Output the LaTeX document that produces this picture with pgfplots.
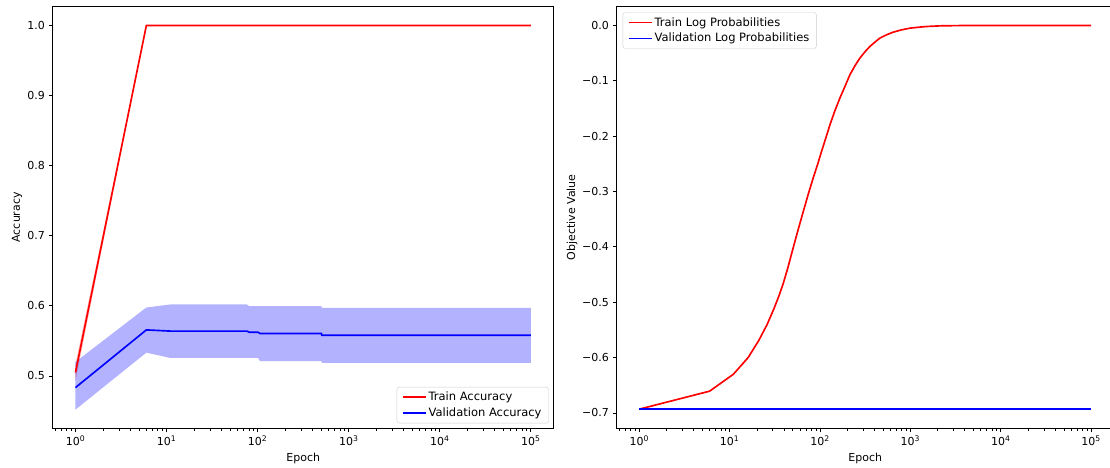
\documentclass[border=0pt]{standalone}
\usepackage{fontspec}
\setmainfont{DejaVu Sans}
\usepackage{pgfplots}
\pgfplotsset{compat=1.18}

\pgfplotsset{
  every axis/.append style={
    scale only axis,
    height=422pt,
    xmode=log,
    xmin=0.5623, xmax=177828,
    xtick={1,10,100,1000,10000,100000},
    xticklabels={10\textsuperscript{0},10\textsuperscript{1},10\textsuperscript{2},10\textsuperscript{3},10\textsuperscript{4},10\textsuperscript{5}},
    minor xtick={0.6,0.7,0.8,0.9,2,3,4,5,6,7,8,9,20,30,40,50,60,70,80,90,
      200,300,400,500,600,700,800,900,2000,3000,4000,5000,6000,7000,8000,9000,
      20000,30000,40000,50000,60000,70000,80000,90000},
    tick align=outside,
    tick pos=left,
    major tick length=3.85pt,
    minor tick length=2.2pt,
    every tick/.style={black, line width=0.88pt},
    every minor tick/.style={black, line width=0.66pt},
    axis line style={line width=0.88pt},
    tick label style={font=\fontsize{11}{13}\selectfont, inner sep=0pt},
    xticklabel style={anchor=north, yshift=-3.6pt},
    yticklabel style={anchor=east, xshift=-3.9pt},
    label style={font=\fontsize{11}{13}\selectfont},
    legend style={font=\fontsize{11.5}{13.5}\selectfont, draw=black!20, rounded corners=2.5pt,
      fill=white, fill opacity=0.8, text opacity=1, inner xsep=5pt, inner ysep=3pt,
      row sep=1.5pt},
    legend cell align=left,
    legend image code/.code={\draw[#1] (0pt,0pt) -- (23pt,0pt);},
  },
  every axis x label/.style={at={(axis description cs:0.5,0)}, anchor=center, yshift=-29.7pt},
  every axis y label/.style={at={(axis description cs:0,0.5)}, rotate=90, anchor=center},
}

\begin{document}
\begin{tikzpicture}
% ---- accuracy panel ----
\begin{axis}[
  at={(52.7pt,38.7pt)}, anchor=south west,
  width=501pt,
  ymin=0.4253, ymax=1.0274,
  ytick={0.5,0.6,0.7,0.8,0.9,1.0},
  yticklabels={0.5,0.6,0.7,0.8,0.9,1.0},
  xlabel={Epoch}, ylabel={Accuracy},
  ylabel style={yshift=35.7pt},
  legend style={at={(axis description cs:1,0)}, anchor=south east, xshift=-5pt, yshift=5pt},
]
% spread bands (upper edge forward, lower edge back)
\addplot[fill=red, fill opacity=0.3, draw=none, forget plot] coordinates {
  (1,0.517) (6,1.0) (100000,1.0) (100000,1.0) (6,1.0) (1,0.493)};
\addplot[fill=blue, fill opacity=0.3, draw=none, forget plot] coordinates {
  (1,0.520) (6,0.5977) (11,0.6020) (76,0.6020) (81,0.5996) (501,0.5996) (506,0.5971) (100000,0.5971)
  (100000,0.5186) (506,0.5186) (501,0.5210) (106,0.5210) (101,0.5257) (11,0.5257) (6,0.5333) (1,0.452)};
% mean curves
\addplot[red, line width=1.65pt] coordinates {(1,0.505) (6,1.0) (100000,1.0)};
\addlegendentry{Train Accuracy}
\addplot[blue, line width=1.65pt] coordinates {
  (1,0.4834) (6,0.5657) (11,0.5640) (76,0.5640) (81,0.5624) (101,0.5624) (106,0.5606) (501,0.5606) (506,0.5581) (100000,0.5581)};
\addlegendentry{Validation Accuracy}
\end{axis}

% ---- objective panel ----
\begin{axis}[
  at={(616.7pt,38.7pt)}, anchor=south west,
  width=497pt,
  ymin=-0.7277, ymax=0.0347,
  ytick={-0.7,-0.6,-0.5,-0.4,-0.3,-0.2,-0.1,0},
  yticklabels={−0.7,−0.6,−0.5,−0.4,−0.3,−0.2,−0.1,0.0},
  xlabel={Epoch}, ylabel={Objective Value},
  ylabel style={yshift=44.7pt},
  legend style={at={(axis description cs:0,1)}, anchor=north west, xshift=6pt, yshift=-6pt},
]
\addplot[red, line width=1.65pt] coordinates {
  (1,-0.6931) (6,-0.6606) (11,-0.630) (16,-0.600) (21,-0.569) (26,-0.540)
  (31,-0.511) (35,-0.489) (39,-0.467) (44,-0.438) (50,-0.404) (57,-0.370)
  (65,-0.337) (74,-0.305) (84,-0.2755) (94,-0.251) (104,-0.2274)
  (116,-0.203) (129,-0.179) (146,-0.154) (166,-0.131) (190,-0.109)
  (214,-0.089) (245,-0.072) (276,-0.0589)
  (316,-0.047) (356,-0.0379) (405,-0.030) (459,-0.0228) (546,-0.0167)
  (646,-0.0120) (800,-0.0078) (988,-0.0048) (1250,-0.0030) (1510,-0.0018)
  (2130,-0.0006) (3500,-0.0001) (10000,0) (100000,0)};
\addlegendentry{Train Log Probabilities}
\addplot[blue, line width=1.65pt] coordinates {(1,-0.6931) (100000,-0.6931)};
\addlegendentry{Validation Log Probabilities}
\end{axis}

\pgfresetboundingbox
\path[use as bounding box] (0,0) rectangle (1110pt,467pt);
\end{tikzpicture}
\end{document}
